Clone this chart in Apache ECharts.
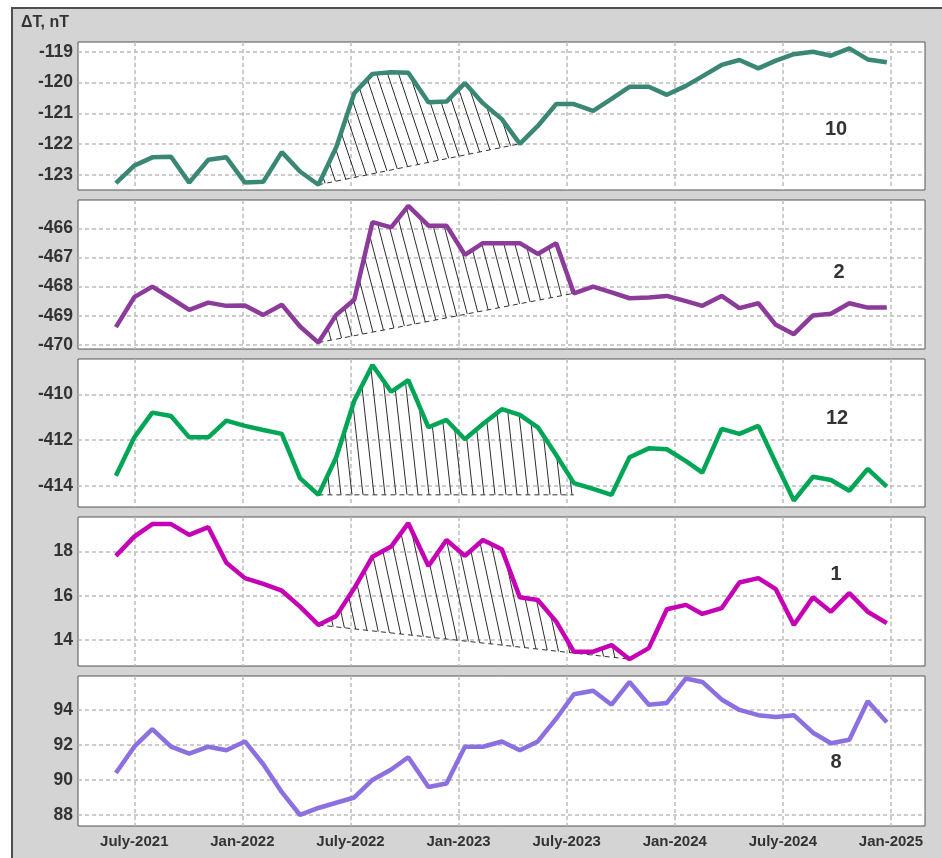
<!DOCTYPE html>
<html>
<head>
<meta charset="utf-8">
<script src="https://cdn.jsdelivr.net/npm/echarts@6/dist/echarts.min.js"></script>
<style>
  html, body { margin: 0; padding: 0; background: #fff; }
  #chart { width: 942px; height: 858px; }
</style>
</head>
<body>
<div id="chart"></div>
<script>
// Sampling times, in months counted from January 2021 (6 = July 2021, 12 = Jan 2022 ...)
const months = [
  4.98, 6.00, 7.00, 8.04, 9.05, 10.11, 11.11, 12.14, 13.16, 14.19,
  15.20, 16.22, 17.21, 18.21, 19.22, 20.26, 21.21, 22.33, 23.33, 24.35,
  25.35, 26.40, 27.40, 28.40, 29.42, 30.40, 31.47, 32.49, 33.49, 34.56,
  35.56, 36.62, 37.53, 38.60, 39.59, 40.64, 41.61, 42.61, 43.67, 44.67,
  45.69, 46.71, 47.77
];

// ΔT, nT for each station
const station10 = [
  -123.27, -122.70, -122.43, -122.41, -123.25, -122.51, -122.43, -123.25, -123.22, -122.26,
  -122.89, -123.32, -122.10, -120.35, -119.72, -119.67, -119.68, -120.64, -120.62, -120.02,
  -120.67, -121.19, -121.99, -121.41, -120.70, -120.70, -120.92, -120.53, -120.14, -120.14,
  -120.40, -120.11, -119.80, -119.43, -119.27, -119.54, -119.29, -119.08, -119.00, -119.13,
  -118.89, -119.25, -119.34
];
const station2 = [
  -469.39, -468.36, -468.00, -468.40, -468.80, -468.55, -468.66, -468.65, -468.97, -468.62,
  -469.37, -469.92, -468.97, -468.45, -465.79, -465.97, -465.23, -465.91, -465.91, -466.91,
  -466.51, -466.51, -466.51, -466.88, -466.51, -468.23, -468.00, -468.20, -468.40, -468.37,
  -468.32, -468.50, -468.66, -468.32, -468.74, -468.57, -469.31, -469.63, -468.99, -468.93,
  -468.57, -468.72, -468.72
];
const station12 = [
  -413.56, -411.88, -410.80, -410.95, -411.88, -411.88, -411.15, -411.38, -411.56, -411.73,
  -413.66, -414.39, -412.75, -410.28, -408.72, -409.89, -409.38, -411.44, -411.12, -411.96,
  -411.30, -410.65, -410.90, -411.44, -412.65, -413.88, -414.13, -414.39, -412.75, -412.36,
  -412.40, -412.92, -413.42, -411.51, -411.73, -411.38, -413.00, -414.64, -413.60, -413.74,
  -414.21, -413.26, -414.03
];
const station1 = [
  17.81, 18.68, 19.25, 19.25, 18.76, 19.11, 17.50, 16.80, 16.54, 16.23,
  15.51, 14.68, 15.09, 16.34, 17.77, 18.23, 19.29, 17.35, 18.53, 17.81,
  18.53, 18.11, 15.93, 15.81, 14.83, 13.47, 13.47, 13.77, 13.13, 13.63,
  15.39, 15.59, 15.18, 15.44, 16.60, 16.80, 16.30, 14.68, 15.93, 15.28,
  16.12, 15.28, 14.76
];
const station8 = [
  90.4, 91.9, 92.9, 91.9, 91.5, 91.9, 91.7, 92.2, 90.9, 89.3,
  88.0, 88.4, 88.7, 89.0, 90.0, 90.6, 91.3, 89.6, 89.8, 91.9,
  91.9, 92.2, 91.7, 92.2, 93.5, 94.9, 95.1, 94.3, 95.6, 94.3,
  94.4, 95.8, 95.6, 94.6, 94.0, 93.7, 93.6, 93.7, 92.7, 92.1,
  92.3, 94.5, 93.3
];

// Anomaly intervals (first and last sample index) shaded under each curve
const anomaly10 = [11, 22];
const anomaly2 = [11, 25];
const anomaly12 = [11, 25];
const anomaly1 = [11, 28];

// Tick marks
const xTickMonths = [6, 12, 18, 24, 30, 36, 42, 48];
const yTicks10 = [-123, -122, -121, -120, -119];
const yTicks2 = [-470, -469, -468, -467, -466];
const yTicks12 = [-414, -412, -410];
const yTicks1 = [14, 16, 18];
const yTicks8 = [88, 90, 92, 94];

const stationNames = ['10', '2', '12', '1', '8'];

// Panel layout and styling
const panels = [
  { name: stationNames[0], values: station10, ticks: yTicks10, color: '#3a8775', top: 42,  height: 148, min: -123.49, max: -118.685,
    hatch: anomaly10, flat: false, slope: 3.0, label: [836, 129] },
  { name: stationNames[1], values: station2,  ticks: yTicks2,  color: '#8c3b9b', top: 200, height: 149, min: -470.14, max: -465.03,
    hatch: anomaly2, flat: false, slope: 3.8, label: [839, 272] },
  { name: stationNames[2], values: station12, ticks: yTicks12, color: '#00a555', top: 359, height: 148, min: -414.92, max: -408.46,
    hatch: anomaly12, flat: true, slope: 9, label: [837, 418] },
  { name: stationNames[3], values: station1,  ticks: yTicks1,  color: '#c600b4', top: 517, height: 149, min: 12.82, max: 19.57,
    hatch: anomaly1, flat: false, slope: 4.6, label: [836, 574] },
  { name: stationNames[4], values: station8,  ticks: yTicks8,  color: '#8c6fe0', top: 676, height: 150, min: 87.37, max: 95.94,
    hatch: null, label: [836, 762] }
];

const X_MIN = 2.876, X_MAX = 49.89;
const FONT = '"Liberation Sans", Arial, sans-serif';

// Tileable "\" hatching used to fill the anomaly areas
function hatchPattern(step, slope) {
  const w = step, h = Math.round(step * slope);
  const c = document.createElement('canvas');
  c.width = w; c.height = h;
  const ctx = c.getContext('2d');
  ctx.strokeStyle = '#2e2e2e';
  ctx.lineWidth = 1;
  [[0, 0], [-w, 0], [w, 0], [0, -h], [0, h]].forEach(([ox, oy]) => {
    ctx.beginPath();
    ctx.moveTo(ox, oy);
    ctx.lineTo(ox + w, oy + h);
    ctx.stroke();
  });
  return c;
}

function monthLabel(m) {
  const year = 2021 + Math.floor(m / 12);
  return (m % 12 === 6 ? 'July-' : 'Jan-') + year;
}

const grids = [], xAxes = [], yAxes = [], series = [], graphics = [];

graphics.push({
  type: 'rect', z: -10, silent: true,
  shape: { x: 12, y: 8, width: 960, height: 900 },
  style: { fill: '#d4d4d4', stroke: '#4f4f4f', lineWidth: 2 }
});

panels.forEach((p, gi) => {
  grids.push({
    left: 78, right: 17, top: p.top, height: p.height,
    show: true, backgroundColor: '#ffffff', borderColor: '#555555', borderWidth: 1
  });
  xAxes.push({
    gridIndex: gi, type: 'value', min: X_MIN, max: X_MAX,
    axisLine: { show: false },
    axisTick: { show: false, customValues: xTickMonths },
    axisLabel: {
      show: gi === panels.length - 1, customValues: xTickMonths,
      formatter: monthLabel, color: '#333', fontFamily: FONT,
      fontWeight: 'bold', fontSize: 15, margin: 8
    },
    splitLine: { show: true, lineStyle: { color: '#bcbcbc', width: 1.5, type: [4, 3] } }
  });
  yAxes.push({
    gridIndex: gi, type: 'value', min: p.min, max: p.max,
    axisLine: { show: false },
    axisTick: { show: false, customValues: p.ticks },
    axisLabel: {
      customValues: p.ticks, color: '#333', fontFamily: FONT,
      fontWeight: 'bold', fontSize: 17.5, margin: 5
    },
    splitLine: { show: true, lineStyle: { color: '#bcbcbc', width: 1.5, type: [4, 3] } }
  });

  if (p.hatch) {
    const [i0, i1] = p.hatch;
    const v0 = p.values[i0];
    const v1 = p.flat ? v0 : p.values[i1];
    const curve = [];
    for (let i = i0; i <= i1; i++) curve.push([months[i], p.values[i]]);
    const pattern = hatchPattern(11, p.slope);
    series.push({
      type: 'custom', name: p.name + '-anomaly', xAxisIndex: gi, yAxisIndex: gi,
      z: 2, silent: true, clip: true,
      data: [[months[i0], v0]],
      renderItem(params, api) {
        const pts = curve.map(d => api.coord(d));
        const b0 = api.coord([months[i0], v0]);
        const b1 = api.coord([months[i1], v1]);
        return {
          type: 'group',
          children: [
            { type: 'polygon', shape: { points: pts.concat([b1, b0]) },
              style: { fill: { image: pattern, repeat: 'repeat' }, stroke: null } },
            { type: 'line', shape: { x1: b0[0], y1: b0[1], x2: b1[0], y2: b1[1] },
              style: { stroke: '#333', lineWidth: 1, lineDash: [5, 4] } }
          ]
        };
      }
    });
  }

  series.push({
    type: 'line', name: p.name, xAxisIndex: gi, yAxisIndex: gi, z: 4,
    data: months.map((m, i) => [m, p.values[i]]),
    showSymbol: false, animation: false,
    lineStyle: { color: p.color, width: 4.5 },
    itemStyle: { color: p.color }
  });

  graphics.push({
    type: 'text', z: 10, silent: true, x: p.label[0], y: p.label[1],
    style: { text: p.name, fill: '#333', font: 'bold 20px ' + FONT, align: 'center', verticalAlign: 'middle' }
  });
});

graphics.push({
  type: 'text', z: 10, silent: true, x: 21, y: 23,
  style: { text: 'ΔT, nT', fill: '#333', font: 'bold 16px ' + FONT, align: 'left', verticalAlign: 'middle' }
});

const chart = echarts.init(document.getElementById('chart'), null, { renderer: 'canvas' });
chart.setOption({
  animation: false,
  backgroundColor: '#ffffff',
  graphic: graphics,
  grid: grids,
  xAxis: xAxes,
  yAxis: yAxes,
  series: series
});
</script>
</body>
</html>
